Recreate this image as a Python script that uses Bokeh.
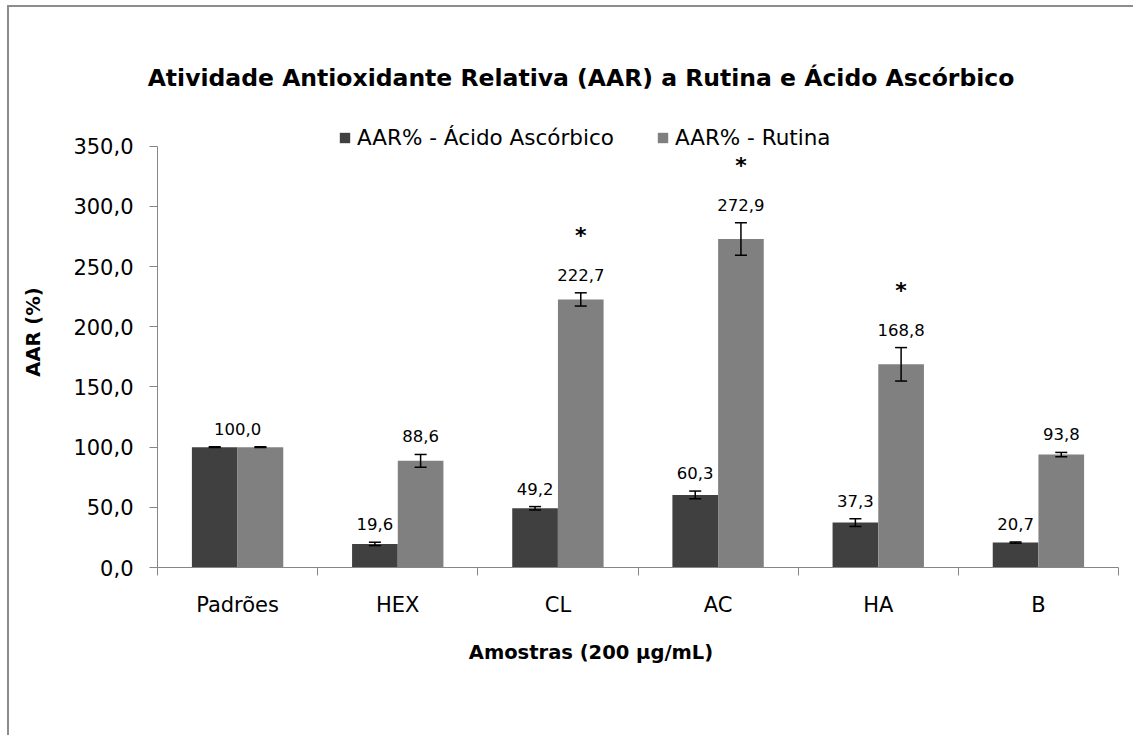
import numpy as np
from math import pi
from bokeh.plotting import figure
from bokeh.models import (ColumnDataSource, Range1d, FixedTicker, Whisker, TeeHead,
                          Label, LabelSet, Legend, LegendItem)
from bokeh.core.properties import value
from bokeh.embed import file_html
from bokeh.resources import INLINE

# ---------------- data ----------------
categories = ["Padrões", "HEX", "CL", "AC", "HA", "B"]
aar_ascorbico = [100.0, 19.6, 49.2, 60.3, 37.3, 20.7]
aar_rutina = [100.0, 88.6, 222.7, 272.9, 168.8, 93.8]
err_ascorbico = [0.3, 1.4, 1.4, 3.2, 3.2, 0.5]
err_rutina = [0.3, 5.3, 5.5, 13.5, 13.9, 1.8]
significant = [False, False, True, True, True, False]
series_names = ["AAR% - Ácido Ascórbico", "AAR% - Rutina"]
y_ticks = [0, 50, 100, 150, 200, 250, 300, 350]
y_tick_labels = ["0,0", "50,0", "100,0", "150,0", "200,0", "250,0", "300,0", "350,0"]
title_text = "Atividade Antioxidante Relativa (AAR) a Rutina e Ácido Ascórbico"
x_title = "Amostras (200 µg/mL)"
y_title = "AAR (%)"

# ---------------- style / layout ----------------
FONT = "DejaVu Sans"
DARK = "#404040"
LIGHT = "#808080"
AXIS = "#868686"
BAR_W = 0.285
OFF = 0.1427

W, H = 1126, 730           # canvas size
AX_L, AX_R = 148, 1109     # canvas x of the category axis ends
AX_B, AX_T = 560, 138.7    # canvas y of 0 and of the top tick

n = len(categories)
px_x = (AX_R - AX_L) / n
px_y = (AX_B - AX_T) / y_ticks[-1]
x_range = Range1d(-AX_L / px_x, n + (W - AX_R) / px_x)
y_range = Range1d(-(H - AX_B) / px_y, AX_B / px_y)

centers = np.arange(n) + 0.5
x_dark = centers - OFF
x_light = centers + OFF

def fmt(v):
    return f"{v:.1f}".replace(".", ",")

p = figure(width=W, height=H, x_range=x_range, y_range=y_range,
           output_backend="svg", toolbar_location=None,
           min_border_left=0, min_border_right=0, min_border_top=0, min_border_bottom=0,
           outline_line_color=None)
p.styles = {"border-top": "2px solid #8c8c8c", "border-left": "2px solid #8c8c8c",
            "margin-left": "7px", "margin-top": "5px"}
p.xgrid.visible = False
p.ygrid.visible = False

r_dark = p.vbar(x=x_dark, top=aar_ascorbico, width=BAR_W, fill_color=DARK, line_color=None)
r_light = p.vbar(x=x_light, top=aar_rutina, width=BAR_W, fill_color=LIGHT, line_color=None)

# error bars
for xs, vals, errs in ((x_dark, aar_ascorbico, err_ascorbico), (x_light, aar_rutina, err_rutina)):
    src = ColumnDataSource(dict(x=list(xs),
                                upper=[v + e for v, e in zip(vals, errs)],
                                lower=[v - e for v, e in zip(vals, errs)]))
    w = Whisker(base="x", upper="upper", lower="lower", source=src, dimension="height",
                line_color="black", line_width=1.5,
                upper_head=TeeHead(size=12, line_color="black", line_width=1.5),
                lower_head=TeeHead(size=12, line_color="black", line_width=1.5))
    w.level = "annotation"
    p.add_layout(w)

# value labels
lx, ly, lt = [], [], []
for i in range(n):
    if aar_ascorbico[i] == aar_rutina[i]:
        lx.append(centers[i]); ly.append(aar_ascorbico[i] + err_ascorbico[i]); lt.append(fmt(aar_ascorbico[i]))
    else:
        lx.append(x_dark[i]); ly.append(aar_ascorbico[i] + err_ascorbico[i]); lt.append(fmt(aar_ascorbico[i]))
        lx.append(x_light[i]); ly.append(aar_rutina[i] + err_rutina[i]); lt.append(fmt(aar_rutina[i]))
lab_src = ColumnDataSource(dict(x=lx, y=ly, t=lt))
p.add_layout(LabelSet(x="x", y="y", text="t", source=lab_src, y_offset=18,
                      text_align="center", text_baseline="middle",
                      text_font=value(FONT), text_font_size=value("16.5px"),
                      text_color="black"))

# significance marks
sx = [x_light[i] for i in range(n) if significant[i]]
sy = [aar_rutina[i] + err_rutina[i] for i in range(n) if significant[i]]
sig_src = ColumnDataSource(dict(x=sx, y=sy, t=["*"] * len(sx)))
p.add_layout(LabelSet(x="x", y="y", text="t", source=sig_src, y_offset=57,
                      text_align="center", text_baseline="middle",
                      text_font=value(FONT), text_font_size=value("22px"),
                      text_font_style="bold", text_color="black"))

# axes (drawn at fixed data locations)
xa = p.xaxis[0]
xa.fixed_location = 0
xa.bounds = (0, n)
xa.ticker = FixedTicker(ticks=list(centers), minor_ticks=list(range(n + 1)))
xa.major_label_overrides = {float(c): cat for c, cat in zip(centers, categories)}
xa.major_tick_line_color = None
xa.major_tick_out = 0
xa.major_tick_in = 0
xa.minor_tick_out = 8
xa.minor_tick_in = 0
xa.minor_tick_line_color = AXIS
xa.axis_line_color = AXIS
xa.major_label_standoff = 17
xa.major_label_text_font = FONT
xa.major_label_text_font_size = "21px"
xa.major_label_text_color = "black"

ya = p.yaxis[0]
ya.fixed_location = 0
ya.ticker = FixedTicker(ticks=y_ticks)
ya.bounds = (y_ticks[0], y_ticks[-1])
ya.major_label_overrides = dict(zip(y_ticks, y_tick_labels))
ya.major_tick_out = 8
ya.major_tick_in = 0
ya.major_tick_line_color = AXIS
ya.minor_tick_line_color = None
ya.axis_line_color = AXIS
ya.major_label_standoff = 16
ya.major_label_text_font = FONT
ya.major_label_text_font_size = "21px"
ya.major_label_text_color = "black"

# titles (screen units from the canvas bottom-left)
p.add_layout(Label(x=571.5, y=H - 70, x_units="screen", y_units="screen", text=title_text,
                   text_align="center", text_baseline="middle", text_font=FONT,
                   text_font_size="23.5px", text_font_style="bold", text_color="black"))
p.add_layout(Label(x=581.5, y=H - 645, x_units="screen", y_units="screen", text=x_title,
                   text_align="center", text_baseline="middle", text_font=FONT,
                   text_font_size="19.5px", text_font_style="bold", text_color="black"))
p.add_layout(Label(x=24, y=H - 324.5, x_units="screen", y_units="screen", text=y_title,
                   angle=pi / 2, text_align="center", text_baseline="middle", text_font=FONT,
                   text_font_size="19.5px", text_font_style="bold", text_color="black"))

# legend
legend = Legend(items=[LegendItem(label=series_names[0], renderers=[r_dark]),
                       LegendItem(label=series_names[1], renderers=[r_light])],
                orientation="horizontal", location=(329, H - 130 - 12.5),
                background_fill_alpha=0, border_line_color=None, padding=0, margin=0,
                spacing=42, label_standoff=6, glyph_width=13, glyph_height=13,
                label_text_font=FONT, label_text_font_size="21.5px", label_text_color="black")
p.add_layout(legend)

open("out.html", "w").write(file_html(p, INLINE))
